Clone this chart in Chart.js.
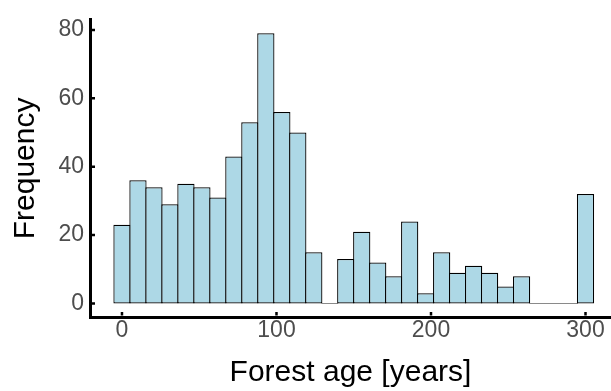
<!DOCTYPE html>
<html>
<head>
<meta charset="utf-8">
<script src="https://cdn.jsdelivr.net/npm/chart.js@4"></script>
<style>
  html, body { margin: 0; padding: 0; background: #fff; }
  #wrap { width: 611px; height: 391px; position: relative; }
</style>
</head>
<body>
<div id="wrap"><canvas id="hist"></canvas></div>
<script>
// histogram bins (30 bins over 0..300 years)
const binCenters = [0, 10.34, 20.69, 31.03, 41.38, 51.72, 62.07, 72.41, 82.76, 93.10,
  103.45, 113.79, 124.14, 134.48, 144.83, 155.17, 165.52, 175.86, 186.21, 196.55,
  206.90, 217.24, 227.59, 237.93, 248.28, 258.62, 268.97, 279.31, 289.66, 300];
const counts = [23, 36, 34, 29, 35, 34, 31, 43, 53, 79,
  56, 50, 15, 0, 13, 21, 12, 8, 24, 3,
  15, 9, 11, 9, 5, 8, 0, 0, 0, 32];
const xTicks = [0, 100, 200, 300];
const yTicks = [0, 20, 40, 60, 80];

Chart.defaults.font.family = "'Liberation Sans', Arial, sans-serif";

// short tick marks sitting just inside the axis lines
const innerTicks = {
  id: 'innerTicks',
  afterDraw(chart) {
    const { ctx, chartArea, scales } = chart;
    ctx.save();
    ctx.strokeStyle = '#000';
    ctx.lineWidth = 2.5;
    ctx.beginPath();
    xTicks.forEach(v => {
      const px = scales.x.getPixelForValue(v);
      ctx.moveTo(px, chartArea.bottom - 1.5);
      ctx.lineTo(px, chartArea.bottom - 5);
    });
    yTicks.forEach(v => {
      const py = scales.y.getPixelForValue(v);
      ctx.moveTo(chartArea.left + 1.5, py);
      ctx.lineTo(chartArea.left + 5, py);
    });
    ctx.stroke();
    ctx.restore();
  }
};

new Chart(document.getElementById('hist'), {
  type: 'bar',
  data: {
    datasets: [{
      data: binCenters.map((x, i) => ({ x, y: counts[i] })),
      backgroundColor: '#ADD8E6',
      borderColor: c => (c.raw && c.raw.y === 0 ? '#8a8a8a' : '#000'),
      borderWidth: 1.25,
      borderSkipped: false,
      minBarLength: 1,
      // bars overlap by one border width so shared edges stay single lines
      barPercentage: 1.08,
      categoryPercentage: 1,
      grouped: false
    }]
  },
  options: {
    responsive: true,
    maintainAspectRatio: false,
    animation: false,
    layout: { padding: { top: 12, left: 0, right: 0, bottom: 0 } },
    plugins: { legend: { display: false }, tooltip: { enabled: false } },
    scales: {
      x: {
        type: 'linear',
        offset: false,
        min: -20.7,
        max: 316.5,
        afterBuildTicks: s => { s.ticks = xTicks.map(v => ({ value: v })); },
        afterFit: s => { s.height = 74; },
        grid: { display: false, drawTicks: false, offset: false },
        border: { display: true, color: '#000', width: 3 },
        ticks: { color: '#4D4D4D', font: { size: 23 }, padding: 0, maxRotation: 0 },
        title: { display: true, text: 'Forest age [years]', color: '#000',
          font: { size: 30 }, padding: { top: 0, bottom: 0 } }
      },
      y: {
        min: -3.95,
        max: 82.95,
        afterBuildTicks: s => { s.ticks = yTicks.map(v => ({ value: v })); },
        afterFit: s => { s.width = 90; },
        grid: { display: false, drawTicks: false },
        border: { display: true, color: '#000', width: 3 },
        ticks: { color: '#4D4D4D', font: { size: 23 }, padding: 6 },
        title: { display: true, text: 'Frequency', color: '#000',
          font: { size: 30 }, padding: { top: 8, bottom: 0 } }
      }
    }
  },
  plugins: [innerTicks]
});
</script>
</body>
</html>
